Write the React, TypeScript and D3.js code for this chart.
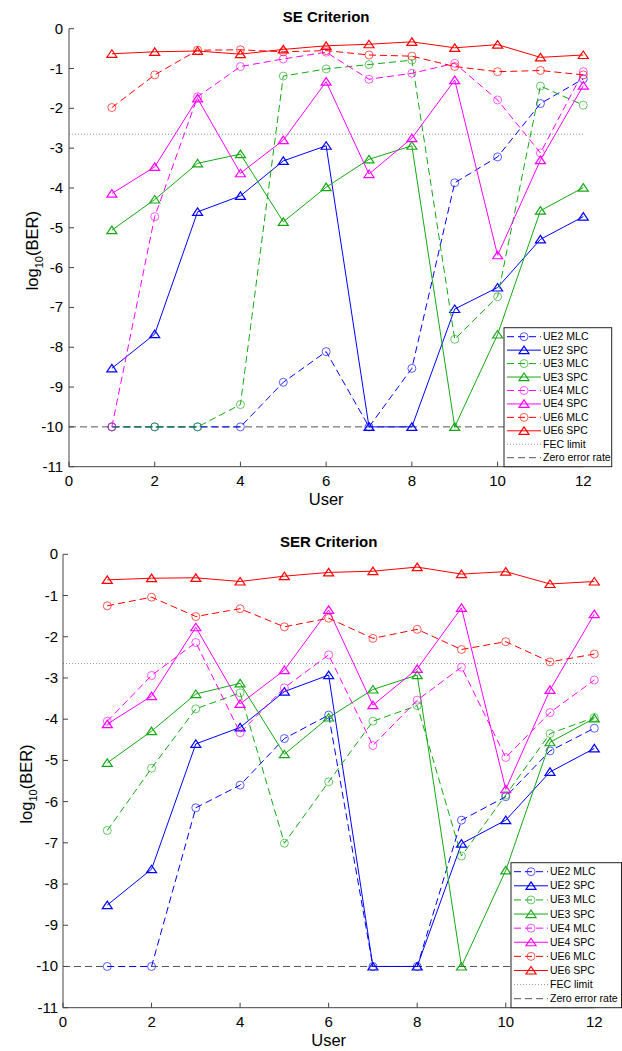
import React from "react";
import * as d3 from "d3";

// users on the x axis
const users = [1, 2, 3, 4, 5, 6, 7, 8, 9, 10, 11, 12];
const yTicks = [0, -1, -2, -3, -4, -5, -6, -7, -8, -9, -10, -11];
const xTicks = [0, 2, 4, 6, 8, 10, 12];

const fecLimit = -2.65;
const zeroRate = -10;

// SE criterion, log10(BER)
const seUe2Mlc = [-10, -10, -10, -10, -8.88, -8.11, -10, -8.53, -3.87, -3.22, -1.88, -1.26];
const seUe2Spc = [-8.53, -7.67, -4.6, -4.2, -3.32, -2.94, -10, -10, -7.04, -6.5, -5.29, -4.72];
const seUe3Mlc = [-10, -10, -10, -9.44, -1.19, -1.01, -0.9, -0.79, -7.8, -6.73, -1.44, -1.92];
const seUe3Spc = [-5.06, -4.29, -3.38, -3.15, -4.85, -3.98, -3.28, -2.94, -10, -7.68, -4.57, -3.99];
const seUe4Mlc = [-10, -4.72, -1.71, -0.95, -0.76, -0.59, -1.27, -1.12, -0.87, -1.79, -3.12, -1.08];
const seUe4Spc = [-4.14, -3.47, -1.75, -3.63, -2.8, -1.33, -3.65, -2.75, -1.29, -5.69, -3.3, -1.43];
const seUe6Mlc = [-1.98, -1.16, -0.54, -0.53, -0.58, -0.55, -0.66, -0.69, -0.95, -1.08, -1.05, -1.16];
const seUe6Spc = [-0.63, -0.58, -0.56, -0.64, -0.52, -0.43, -0.39, -0.33, -0.48, -0.4, -0.72, -0.66];

// SER criterion, log10(BER)
const serUe2Mlc = [-10, -10, -6.15, -5.6, -4.47, -3.9, -10, -10, -6.45, -5.88, -4.77, -4.22];
const serUe2Spc = [-8.51, -7.64, -4.6, -4.2, -3.33, -2.93, -10, -10, -7.02, -6.45, -5.28, -4.71];
const serUe3Mlc = [-6.7, -5.19, -3.75, -3.36, -7.01, -5.52, -4.05, -3.67, -7.32, -5.84, -4.35, -3.96];
const serUe3Spc = [-5.06, -4.29, -3.39, -3.13, -4.85, -3.96, -3.28, -2.93, -10, -7.67, -4.56, -3.98];
const serUe4Mlc = [-4.05, -2.94, -2.14, -4.33, -3.24, -2.44, -4.64, -3.54, -2.74, -4.93, -3.84, -3.05];
const serUe4Spc = [-4.12, -3.44, -1.77, -3.63, -2.81, -1.35, -3.66, -2.78, -1.3, -5.7, -3.29, -1.45];
const serUe6Mlc = [-1.25, -1.04, -1.51, -1.32, -1.76, -1.55, -2.04, -1.82, -2.31, -2.12, -2.61, -2.42];
const serUe6Spc = [-0.62, -0.58, -0.57, -0.66, -0.53, -0.44, -0.41, -0.31, -0.48, -0.42, -0.72, -0.66];

const seriesNames = ["UE2 MLC", "UE2 SPC", "UE3 MLC", "UE3 SPC", "UE4 MLC", "UE4 SPC", "UE6 MLC", "UE6 SPC"];
const seriesColors = ["#0000ff", "#0000ff", "#14a814", "#14a814", "#ff00ff", "#ff00ff", "#ff0000", "#ff0000"];

const FONT = "'Liberation Sans', Arial, Helvetica, sans-serif";

const Marker = ({ kind, x, y, color }) =>
  kind === "circle" ? (
    <circle cx={x} cy={y} r={4} fill="none" stroke={color} strokeWidth={0.8} opacity={0.8} />
  ) : (
    <path
      d={`M${x - 5},${y + 3.5}L${x + 5},${y + 3.5}L${x},${y - 4}Z`}
      fill="none"
      stroke={color}
      strokeWidth={1.2}
    />
  );

const Panel = ({ title, data, box, legendBox, titleY, xLabelY, tickLabelY, yLabelX, tickRight }) => {
  const x = d3.scaleLinear().domain([0, 12]).range([box.left, box.right]);
  const y = d3.scaleLinear().domain([-11, 0]).range([box.bottom, box.top]);
  const line = d3
    .line<number>()
    .x((d, i) => x(users[i]))
    .y((d) => y(d));

  const rowH = (legendBox.bottom - legendBox.top - 18) / 9;
  const lx0 = legendBox.left + 3;
  const lx1 = legendBox.left + 37;
  const ltext = legendBox.left + 39;
  const legendItems = [
    ...seriesNames.map((n, i) => ({ name: n, color: seriesColors[i], mlc: i % 2 === 0, ref: null })),
    { name: "FEC limit", color: "#999", mlc: false, ref: "fec" },
    { name: "Zero error rate", color: "#555", mlc: false, ref: "zero" },
  ];

  return (
    <g fontFamily={FONT}>
      <text x={(box.left + box.right) / 2} y={titleY} textAnchor="middle" fontWeight="bold" fontSize={15}>
        {title}
      </text>

      {/* reference lines */}
      <line x1={x(0)} x2={x(12)} y1={y(fecLimit)} y2={y(fecLimit)} stroke="#999" strokeWidth={1} strokeDasharray="1,2" />
      <line x1={x(0)} x2={x(12)} y1={y(zeroRate)} y2={y(zeroRate)} stroke="#555" strokeWidth={1} strokeDasharray="7,4" />

      {/* series */}
      {data.map((vals, si) => {
        const mlc = si % 2 === 0;
        const color = seriesColors[si];
        return (
          <g key={si}>
            <path
              d={line(vals)}
              fill="none"
              stroke={color}
              strokeWidth={1}
              strokeDasharray={mlc ? "7,4" : null}
            />
            {vals.map((v, i) => (
              <Marker key={i} kind={mlc ? "circle" : "tri"} x={x(users[i])} y={y(v)} color={color} />
            ))}
          </g>
        );
      })}

      {/* axes */}
      <line x1={box.left} x2={box.left} y1={box.top} y2={box.bottom} stroke="#444" />
      <line x1={box.left} x2={box.right} y1={box.bottom} y2={box.bottom} stroke="#444" />
      {yTicks.map((t) => (
        <g key={t}>
          <line x1={box.left} x2={box.left + 5} y1={y(t)} y2={y(t)} stroke="#444" />
          <text x={tickRight} y={y(t) + 5} textAnchor="end" fontSize={15}>
            {t}
          </text>
        </g>
      ))}
      {xTicks.map((t) => (
        <g key={t}>
          <line x1={x(t)} x2={x(t)} y1={box.bottom} y2={box.bottom - 5} stroke="#444" />
          <text x={x(t)} y={tickLabelY} textAnchor="middle" fontSize={15}>
            {t}
          </text>
        </g>
      ))}
      <text x={(box.left + box.right) / 2} y={xLabelY} textAnchor="middle" fontSize={16.5}>
        User
      </text>
      <text
        transform={`translate(${yLabelX},${(box.top + box.bottom) / 2 + 3}) rotate(-90)`}
        textAnchor="middle"
        fontSize={16.5}
      >
        log
        <tspan fontSize={11} dy={5}>
          10
        </tspan>
        <tspan dy={-5}>(BER)</tspan>
      </text>

      {/* legend */}
      <rect
        x={legendBox.left}
        y={legendBox.top}
        width={legendBox.right - legendBox.left}
        height={legendBox.bottom - legendBox.top}
        fill="#fff"
        stroke="#222"
        strokeWidth={1}
      />
      {legendItems.map((it, i) => {
        const ly = legendBox.top + 9 + rowH * i;
        const dash = it.ref === "fec" ? "1,2" : it.ref === "zero" || it.mlc ? "7,4" : null;
        return (
          <g key={it.name}>
            <line x1={lx0} x2={lx1} y1={ly} y2={ly} stroke={it.color} strokeWidth={1} strokeDasharray={dash} />
            {it.ref === null && (
              <Marker kind={it.mlc ? "circle" : "tri"} x={(lx0 + lx1) / 2} y={ly} color={it.color} />
            )}
            <text x={ltext} y={ly + 3.5} fontSize={10.5}>
              {it.name}
            </text>
          </g>
        );
      })}
    </g>
  );
};

const App = () => {
  const seData = [seUe2Mlc, seUe2Spc, seUe3Mlc, seUe3Spc, seUe4Mlc, seUe4Spc, seUe6Mlc, seUe6Spc];
  const serData = [serUe2Mlc, serUe2Spc, serUe3Mlc, serUe3Spc, serUe4Mlc, serUe4Spc, serUe6Mlc, serUe6Spc];
  return (
    <svg width={622} height={1051} style={{ position: "absolute", left: 0, top: 0, background: "#fff" }}>
      <Panel
        title="SE Criterion"
        data={seData}
        box={{ left: 69, right: 583.3, top: 28.7, bottom: 466.7 }}
        legendBox={{ left: 504, right: 611.7, top: 327.7, bottom: 466.7 }}
        titleY={22}
        xLabelY={505}
        tickLabelY={486}
        yLabelX={38}
        tickRight={63}
      />
      <Panel
        title="SER Criterion"
        data={serData}
        box={{ left: 63, right: 594.3, top: 554.3, bottom: 1007.7 }}
        legendBox={{ left: 511, right: 621.5, top: 862.7, bottom: 1007.7 }}
        titleY={547}
        xLabelY={1046}
        tickLabelY={1027}
        yLabelX={32}
        tickRight={58}
      />
    </svg>
  );
};

export default App;
